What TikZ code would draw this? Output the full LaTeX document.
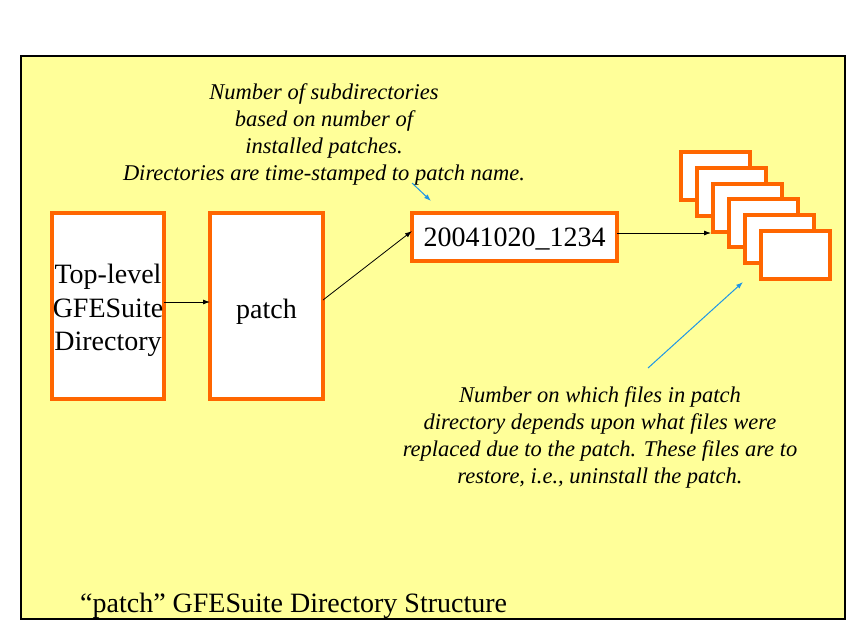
\documentclass[tikz,border=0pt]{standalone}
\usepackage{fontspec}
\setmainfont{Liberation Serif}
\usetikzlibrary{arrows.meta}
\definecolor{bgyellow}{RGB}{255,255,153}
\definecolor{boxorange}{RGB}{255,102,0}
\definecolor{noteblue}{RGB}{30,150,230}
\newcommand{\lowered}[2]{\raisebox{#1}[\height][\depth]{#2}}
\newcommand{\boxlines}[2]{\raisebox{#1}[\height][\depth]{\setlength{\tabcolsep}{0pt}\begin{tabular}{c}#2\end{tabular}}}
\begin{document}
\begin{tikzpicture}[x=1pt,y=-1pt,
  dirbox/.style={draw=boxorange, line width=4pt, fill=white, inner sep=0pt, outer sep=0pt,
    font=\fontsize{28}{33.5}\selectfont},
  filebox/.style={dirbox, minimum width=69pt, minimum height=48pt},
  link/.style={-{Latex[length=7pt,width=5pt]}, line width=0.8pt},
  notearrow/.style={draw=noteblue, -{Latex[length=7pt,width=5pt]}, line width=1pt},
  notetext/.style={font=\fontsize{22.5}{27}\selectfont\itshape, align=center, inner sep=0pt},
  titletext/.style={font=\fontsize{28}{33}\selectfont, inner sep=0pt}]
\useasboundingbox (0,0) rectangle (864,633);
\draw[fill=bgyellow, line width=1.2pt] (21,56) rectangle (845,619);

\node[dirbox, minimum width=112pt, minimum height=186pt] (top) at (108,306) {\boxlines{-4.5pt}{Top-level\\GFESuite\\Directory}};
\node[dirbox, minimum width=113pt, minimum height=186pt] (patch) at (266.5,306) {\lowered{-6pt}{patch}};
\node[dirbox, minimum width=205pt, minimum height=48pt] (stamp) at (514.5,237) {\lowered{-2pt}{20041020\_1234}};

\foreach \i in {1,...,6} {
  \node[filebox] (f\i) at ({715.5+16*(\i-1)},{176+15.8*(\i-1)}) {};
}

\draw[link] ([yshift=4pt]top.east) -- ([yshift=4pt]patch.west);
\draw[link] ([yshift=6pt]patch.east) -- ([yshift=6pt]stamp.west);
\coordinate (stackin) at (711,233);
\draw[link] ([yshift=4pt]stamp.east) -- (stackin);

\node[notetext] (note1) at (324,134) {Number of subdirectories\\based on number of\\installed patches.\\Directories are time-stamped to patch name.};
\node[notetext] (note2) at (600,437) {Number on which files in patch\\directory depends upon what files were\\replaced due to the patch. These files are to\\restore, i.e., uninstall the patch.};

\coordinate (n1s) at (412,183);
\coordinate (n1e) at (431,201);
\draw[notearrow] (n1s) -- (n1e);
\coordinate (n2s) at (648,368);
\coordinate (n2e) at (743,282);
\draw[notearrow] (n2s) -- (n2e);

\node[titletext, anchor=west] (title) at (80,606) {“patch” GFESuite Directory Structure};
\end{tikzpicture}
\end{document}
